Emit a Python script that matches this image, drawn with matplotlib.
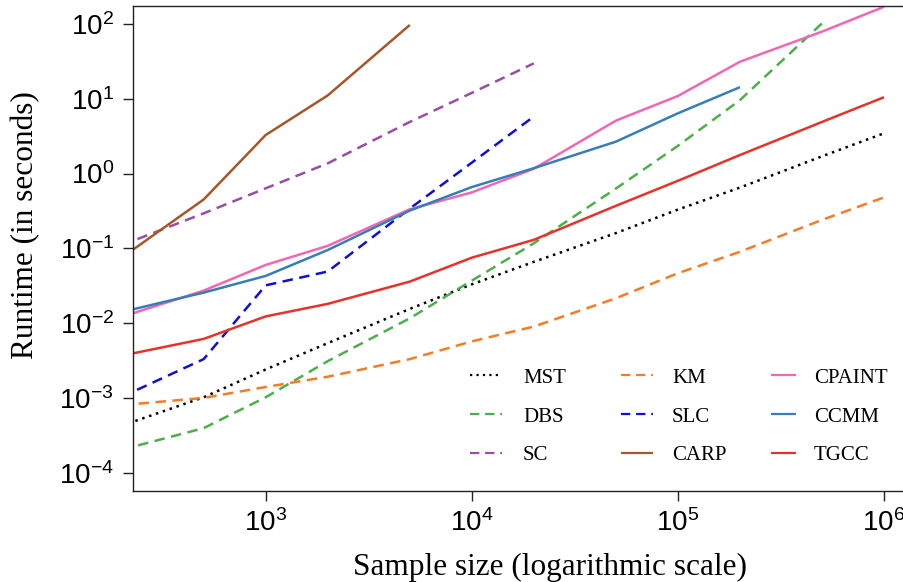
import matplotlib
matplotlib.use("Agg")
import matplotlib.pyplot as plt
import numpy as np
from matplotlib.ticker import FixedLocator, NullLocator, FuncFormatter

plt.rcParams['font.family'] = ['Liberation Sans', 'DejaVu Sans']
plt.rcParams['mathtext.fontset'] = 'custom'
plt.rcParams['mathtext.rm'] = 'Liberation Sans'
plt.rcParams['mathtext.it'] = 'Liberation Sans:italic'
plt.rcParams['mathtext.bf'] = 'Liberation Sans:bold'

# ---- data ----
sizes = [200, 500, 1000, 2000, 5000, 10000, 20000, 50000, 100000, 200000, 500000, 1000000]

mst = [4.25e-4, 1.02e-3, 2.4e-3, 5.4e-3, 0.0155, 0.033, 0.066, 0.16, 0.33, 0.65, 1.7, 3.46]
dbs = [2.03e-4, 3.94e-4, 1.02e-3, 3.1e-3, 0.0116, 0.037, 0.117, 0.63, 2.35, 9.6, 102]
sc = [0.11, 0.294, 0.635, 1.37, 4.9, 12.0, 29.8]
km = [8.0e-4, 1.0e-3, 1.4e-3, 1.92e-3, 3.3e-3, 5.7e-3, 9.0e-3, 0.0215, 0.0465, 0.09, 0.24, 0.48]
slc = [1.03e-3, 3.3e-3, 0.032, 0.049, 0.34, 1.40, 5.8]
carp = [0.075, 0.45, 3.28, 11.1, 97]
cpaint = [0.0121, 0.0272, 0.060, 0.108, 0.333, 0.56, 1.16, 5.1, 10.9, 31.3, 79, 170]
ccmm = [0.0141, 0.0256, 0.0428, 0.095, 0.32, 0.66, 1.18, 2.67, 6.4, 14.3]
tgcc = [3.67e-3, 6.15e-3, 0.0123, 0.0181, 0.0359, 0.075, 0.13, 0.37, 0.80, 1.77, 4.9, 10.5]

series = [
    ("MST", mst, "#000000", "dot"),
    ("DBS", dbs, "#4DAF4A", "dash"),
    ("SC", sc, "#984EA3", "dash"),
    ("KM", km, "#F57C26", "dash"),
    ("SLC", slc, "#1010D0", "dash"),
    ("CARP", carp, "#A65628", "solid"),
    ("CPAINT", cpaint, "#F067B4", "solid"),
    ("CCMM", ccmm, "#377EB8", "solid"),
    ("TGCC", tgcc, "#E6332A", "solid"),
]

xticks = [1e3, 1e4, 1e5, 1e6]
yticks = [1e-4, 1e-3, 1e-2, 1e-1, 1e0, 1e1, 1e2]

# ---- layout ----
W, H = 904, 582
fig = plt.figure(figsize=(W / 100, H / 100), dpi=100)

dec_x = 206.1   # px per decade (x)
left_px, right_px = 133.3, 908.7
x_lo = 10 ** (3 - (265.7 - left_px) / dec_x)
x_hi = 10 ** (6 + (right_px - 884.0) / dec_x)
top_px, bottom_px = 5.7, 491.0
y_lo, y_hi = 10 ** -4.245, 10 ** 2.245

ax = fig.add_axes([left_px / W, 1 - bottom_px / H, (right_px - left_px) / W, (bottom_px - top_px) / H])
ax.set_xscale('log')
ax.set_yscale('log')

styles = {"dot": (0, (1.0, 1.9)), "dash": (0, (4.2, 2.6)), "solid": "-"}
handles = []
for name, vals, col, st in series:
    ln, = ax.plot(sizes[:len(vals)], vals, color=col, lw=1.8, linestyle=styles[st], label=name,
                  dash_capstyle='butt', solid_capstyle='butt')
    handles.append(ln)

ax.set_xlim(x_lo, x_hi)
ax.set_ylim(y_lo, y_hi)

def fmt(v, pos):
    e = int(round(np.log10(v)))
    s = str(e).replace('-', '\u2212')
    return r'$\mathdefault{10^{%s}}$' % s

ax.xaxis.set_major_locator(FixedLocator(xticks))
ax.yaxis.set_major_locator(FixedLocator(yticks))
ax.xaxis.set_minor_locator(NullLocator())
ax.yaxis.set_minor_locator(NullLocator())
ax.xaxis.set_major_formatter(FuncFormatter(fmt))
ax.yaxis.set_major_formatter(FuncFormatter(fmt))
ax.tick_params(axis='both', which='major', direction='out', length=7, width=1.0,
               labelsize=20, color='#222222')
ax.tick_params(axis='x', pad=6)
ax.tick_params(axis='y', pad=7)

for s in ax.spines.values():
    s.set_linewidth(1.0)
    s.set_color('#222222')

# legend: three columns, each its own legend for exact placement
col_x = [470, 621, 771]
col_hlen = [1.55, 1.55, 1.2]
col_pad = [1.0, 0.9, 0.85]
legs = []
for i, cx in enumerate(col_x):
    hs = handles[3 * i:3 * i + 3]
    lg = ax.legend(handles=hs, labels=[h.get_label() for h in hs], ncol=1, frameon=False,
                   loc='upper left', bbox_to_anchor=(cx / W, 1 - 368 / H),
                   bbox_transform=fig.transFigure, borderaxespad=0, borderpad=0,
                   prop={'family': 'Liberation Serif', 'size': 15},
                   handlelength=col_hlen[i], handletextpad=col_pad[i], labelspacing=0.93)
    for l in lg.get_lines():
        l.set_linewidth(1.6)
    legs.append(lg)
for lg in legs[:-1]:
    ax.add_artist(lg)

fig.text(550 / W, 1 - 575.5 / H, "Sample size (logarithmic scale)", ha='center', va='baseline',
         family='Liberation Serif', fontsize=22.5)
fig.text(33.3 / W, 1 - 225 / H, "Runtime (in seconds)", ha='center', va='baseline',
         rotation=90, rotation_mode='anchor', family='Liberation Serif', fontsize=22.5)

fig.savefig("out.png", dpi=100)
